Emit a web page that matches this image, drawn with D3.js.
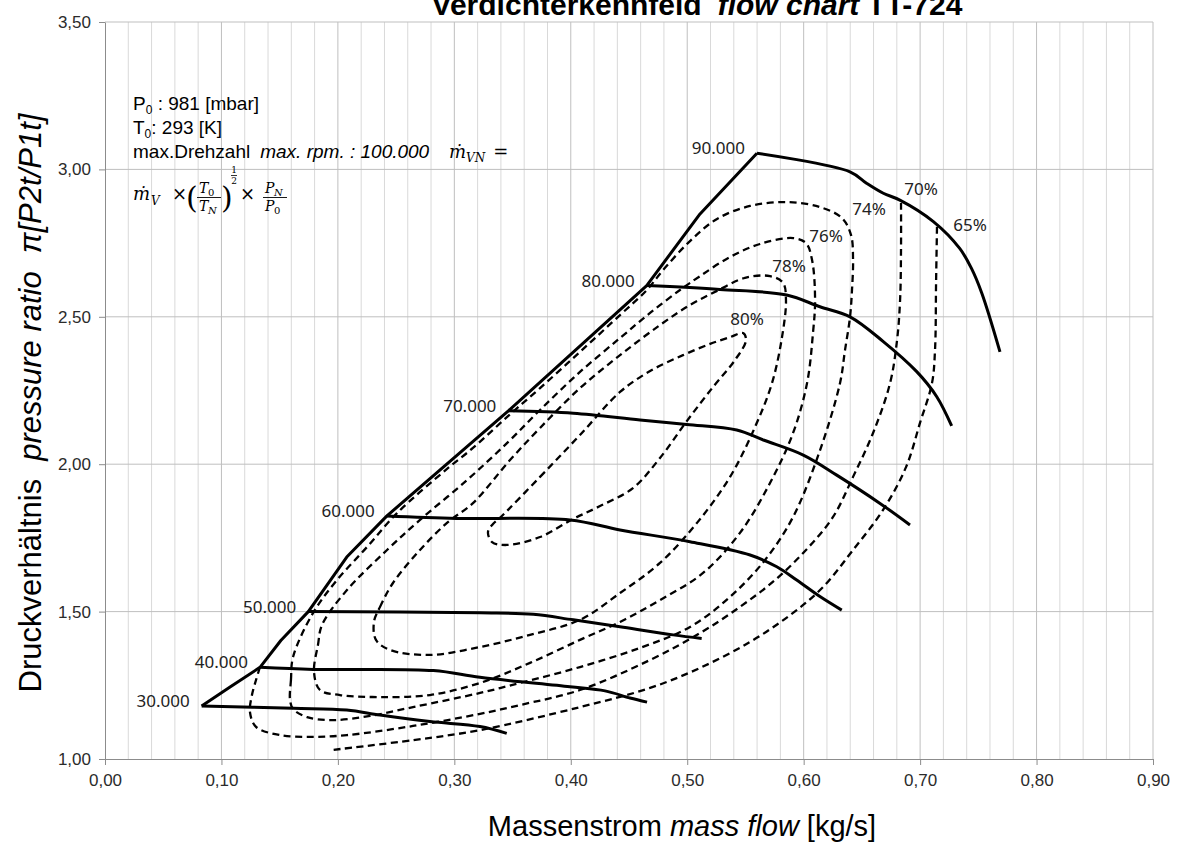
<!DOCTYPE html>
<html><head><meta charset="utf-8">
<script src="https://cdn.jsdelivr.net/npm/d3@7/dist/d3.min.js"></script>
<style>body{margin:0;background:#fff}svg{display:block}</style>
</head><body>
<svg id="chart" width="1183" height="854"></svg>
<script>
// ---------- data ----------
const xTicks = [0,0.1,0.2,0.3,0.4,0.5,0.6,0.7,0.8,0.9];
const yTicks = [1.0,1.5,2.0,2.5,3.0,3.5];
const speedNames = ["30.000","40.000","50.000","60.000","70.000","80.000","90.000"];

const speed30 = [[0.083,1.180],[0.1617,1.172],[0.2076,1.166],[0.2362,1.149],[0.2791,1.127],[0.322,1.110],[0.345,1.087]];
const speed40 = [[0.1331,1.311],[0.1789,1.304],[0.282,1.300],[0.322,1.277],[0.3993,1.245],[0.4294,1.231],[0.4509,1.207],[0.4655,1.193]];
const speed50 = [[0.1746,1.500],[0.322,1.496],[0.3678,1.491],[0.4022,1.472],[0.4451,1.447],[0.488,1.421],[0.5124,1.409]];
const speed60 = [[0.2419,1.824],[0.302,1.816],[0.3993,1.811],[0.4423,1.777],[0.5024,1.737],[0.554,1.692],[0.5769,1.652],[0.594,1.607],[0.614,1.551],[0.6327,1.505]];
const speed70 = [[0.3464,2.181],[0.4022,2.173],[0.4595,2.150],[0.4996,2.135],[0.5425,2.116],[0.5654,2.082],[0.5997,2.031],[0.6284,1.963],[0.6656,1.867],[0.6913,1.794]];
const speed80 = [[0.4652,2.606],[0.5281,2.593],[0.5854,2.574],[0.614,2.534],[0.6398,2.500],[0.6684,2.416],[0.6971,2.314],[0.7143,2.229],[0.7271,2.130]];
const speed90 = [[0.5599,3.055],[0.6398,2.992],[0.654,2.953],[0.6684,2.919],[0.6826,2.896],[0.7114,2.823],[0.734,2.732],[0.744,2.665],[0.753,2.580],[0.7686,2.381]];

const surge = [[0.083,1.180],[0.1074,1.244],[0.1331,1.311],[0.1510,1.402],[0.1746,1.500],[0.2076,1.685],[0.2419,1.824],[0.3464,2.181],[0.4652,2.606],[0.5110,2.849],[0.5599,3.055]];

// efficiency islands (closed loops)
const eff80 = [[0.3392,1.818],[0.3736,1.957],[0.4079,2.099],[0.4423,2.245],[0.4681,2.316],[0.4964,2.370],[0.5196,2.408],[0.5368,2.431],[0.5479,2.445],[0.5505,2.421],[0.5410,2.353],[0.5222,2.262],[0.4998,2.147],[0.4766,2.021],[0.4534,1.919],[0.4251,1.858],[0.4019,1.814],[0.3736,1.753],[0.3452,1.726],[0.3324,1.736],[0.3289,1.770],[0.3332,1.797]];
const eff78 = [[0.2310,1.465],[0.2362,1.516],[0.2473,1.597],[0.2705,1.709],[0.2937,1.801],[0.3160,1.868],[0.3478,2.014],[0.3736,2.123],[0.4079,2.258],[0.4423,2.370],[0.4766,2.472],[0.5024,2.540],[0.5256,2.588],[0.5496,2.632],[0.5711,2.638],[0.5823,2.615],[0.5848,2.557],[0.5814,2.431],[0.5728,2.275],[0.5582,2.126],[0.5368,1.957],[0.5084,1.801],[0.4766,1.665],[0.4423,1.563],[0.4079,1.472],[0.3650,1.421],[0.3221,1.380],[0.2791,1.353],[0.2448,1.370],[0.2327,1.404]];
const eff76 = [[0.1795,1.295],[0.1829,1.387],[0.1864,1.455],[0.2078,1.573],[0.2422,1.709],[0.2705,1.811],[0.3109,1.946],[0.3461,2.075],[0.3736,2.184],[0.4079,2.313],[0.4423,2.428],[0.4681,2.513],[0.4938,2.591],[0.5110,2.638],[0.5368,2.703],[0.5625,2.747],[0.5909,2.767],[0.6020,2.750],[0.6072,2.693],[0.6098,2.557],[0.6080,2.445],[0.6029,2.275],[0.5909,2.106],[0.5711,1.936],[0.5453,1.767],[0.5136,1.631],[0.4766,1.539],[0.4423,1.465],[0.4079,1.404],[0.3650,1.326],[0.3221,1.258],[0.2791,1.217],[0.2362,1.210],[0.2018,1.217],[0.1846,1.234]];
const eff74 = [[0.1589,1.200],[0.1597,1.268],[0.1615,1.346],[0.1786,1.495],[0.1992,1.607],[0.2250,1.719],[0.2508,1.834],[0.2937,1.984],[0.3160,2.055],[0.3461,2.163],[0.3736,2.258],[0.4079,2.381],[0.4423,2.506],[0.4646,2.588],[0.4809,2.666],[0.5024,2.757],[0.5256,2.832],[0.5539,2.876],[0.5857,2.889],[0.6141,2.872],[0.6329,2.835],[0.6407,2.777],[0.6424,2.693],[0.6415,2.591],[0.6398,2.499],[0.6355,2.387],[0.6312,2.275],[0.6141,2.048],[0.5909,1.821],[0.5668,1.675],[0.5368,1.550],[0.5024,1.448],[0.4595,1.377],[0.4079,1.312],[0.3564,1.258],[0.3221,1.224],[0.2645,1.176],[0.2276,1.146],[0.1958,1.132],[0.1735,1.142],[0.1615,1.170]];
// open efficiency lines
const eff70 = [[0.1331,1.312],[0.1297,1.268],[0.1262,1.217],[0.1245,1.159],[0.1297,1.109],[0.1503,1.081],[0.1786,1.075],[0.2078,1.081],[0.2645,1.112],[0.3221,1.153],[0.3564,1.183],[0.4079,1.234],[0.4681,1.336],[0.5110,1.427],[0.5453,1.516],[0.5754,1.607],[0.6020,1.709],[0.6252,1.821],[0.6424,1.957],[0.6596,2.106],[0.6742,2.275],[0.6802,2.421],[0.6828,2.557],[0.6836,2.727],[0.6836,2.886]];
const eff65 = [[0.7145,2.805],[0.7137,2.615],[0.7128,2.387],[0.7102,2.275],[0.6999,2.140],[0.6879,1.990],[0.6682,1.845],[0.6424,1.709],[0.6158,1.580],[0.5883,1.488],[0.5539,1.397],[0.5110,1.309],[0.4681,1.241],[0.4079,1.176],[0.3221,1.098],[0.2645,1.064],[0.1958,1.031]];

const effLabels = [
  {t:"80%", x:0.5514, y:2.493},
  {t:"78%", x:0.5874, y:2.672},
  {t:"76%", x:0.6192, y:2.774},
  {t:"74%", x:0.6561, y:2.866},
  {t:"70%", x:0.7008, y:2.934},
  {t:"65%", x:0.7429, y:2.811}
];

// ---------- layout ----------
const W = 1183, H = 854;
const M = {left:105, right:30, top:22, bottom:95};
const svg = d3.select("#chart");
const x = d3.scaleLinear().domain([0,0.9]).range([M.left, W - M.right]);
const y = d3.scaleLinear().domain([1,3.5]).range([H - M.bottom, M.top]);
const SANS = "'Liberation Sans', Arial, sans-serif";
const LBL = "'Noto Sans', 'Open Sans', sans-serif";
const SERIF = "'DejaVu Serif', 'Liberation Serif', serif";
const fmt = d3.formatLocale({decimal:",", thousands:".", grouping:[3], currency:["","€"]}).format(".2f");

// grid
const minorX = d3.range(0, 45).map(i => i * 0.02).filter(v => Math.abs(v*10 - Math.round(v*10)) > 1e-6);
const g = svg.append("g");
g.selectAll("line.mx").data(minorX).join("line")
  .attr("x1", d => x(d)).attr("x2", d => x(d)).attr("y1", y(1)).attr("y2", y(3.5))
  .attr("stroke", "#d9d9d9").attr("stroke-width", 1);
g.selectAll("line.Mx").data(xTicks.slice(1)).join("line")
  .attr("x1", d => x(d)).attr("x2", d => x(d)).attr("y1", y(1)).attr("y2", y(3.5))
  .attr("stroke", "#bfbfbf").attr("stroke-width", 1);
g.selectAll("line.My").data(yTicks.slice(1)).join("line")
  .attr("x1", x(0)).attr("x2", x(0.9)).attr("y1", d => y(d)).attr("y2", d => y(d))
  .attr("stroke", "#bfbfbf").attr("stroke-width", 1);

// axes
const gx = svg.append("g").attr("transform", `translate(0,${y(1)})`)
  .call(d3.axisBottom(x).tickValues(xTicks).tickSize(6).tickSizeOuter(0).tickPadding(9).tickFormat(fmt));
const gy = svg.append("g").attr("transform", `translate(${x(0)},0)`)
  .call(d3.axisLeft(y).tickValues(yTicks).tickSize(6).tickSizeOuter(0).tickPadding(8).tickFormat(fmt));
[gx, gy].forEach(a => {
  a.select(".domain").attr("stroke", "#8c8c8c");
  a.selectAll(".tick line").attr("stroke", "#8c8c8c");
  a.selectAll(".tick text").attr("font-family", SANS).attr("font-size", 17).attr("fill", "#2b2b2b");
});

// curves
const smooth = d3.line().x(d => x(d[0])).y(d => y(d[1])).curve(d3.curveCatmullRom.alpha(0.5));
const closed = d3.line().x(d => x(d[0])).y(d => y(d[1])).curve(d3.curveCatmullRomClosed.alpha(0.5));
const surgeLine = d3.line().x(d => x(d[0])).y(d => y(d[1])).curve(d3.curveLinear);

const dashStyle = p => p.attr("fill", "none").attr("stroke", "#000").attr("stroke-width", 2.3).attr("stroke-dasharray", "7,4.5");
[eff80, eff78, eff76, eff74].forEach(c => svg.append("path").attr("d", closed(c)).call(dashStyle));
[eff70, eff65].forEach(c => svg.append("path").attr("d", smooth(c)).call(dashStyle));

const speeds = [speed30, speed40, speed50, speed60, speed70, speed80, speed90];
speeds.forEach(s => svg.append("path").attr("d", smooth(s))
  .attr("fill", "none").attr("stroke", "#000").attr("stroke-width", 3).attr("stroke-linejoin", "round"));
svg.append("path").attr("d", surgeLine(surge))
  .attr("fill", "none").attr("stroke", "#000").attr("stroke-width", 3).attr("stroke-linejoin", "round");

// speed labels
svg.selectAll("text.sp").data(speeds).join("text")
  .attr("x", d => x(d[0][0]) - 12).attr("y", d => y(d[0][1]) - 5).attr("dy", "0.35em")
  .attr("text-anchor", "end").attr("font-family", LBL).attr("font-size", 17).attr("fill", "#222")
  .text((d, i) => speedNames[i]);

// efficiency labels
svg.selectAll("text.ef").data(effLabels).join("text")
  .attr("x", d => x(d.x)).attr("y", d => y(d.y)).attr("dy", "0.35em")
  .attr("text-anchor", "middle").attr("font-family", LBL).attr("font-size", 17).attr("fill", "#222")
  .text(d => d.t);

// title
const title = svg.append("text").attr("x", 697).attr("y", 15).attr("text-anchor", "middle")
  .attr("font-family", SANS).attr("font-weight", "bold").attr("font-size", 30).attr("fill", "#000");
title.append("tspan").text("Verdichterkennfeld");
title.append("tspan").attr("dx", 16).attr("font-style", "italic").text("flow chart");
title.append("tspan").attr("dx", 8).text("TT-724");

// x axis title
const xt = svg.append("text").attr("x", 682).attr("y", 836).attr("text-anchor", "middle")
  .attr("font-family", SANS).attr("font-size", 29).attr("fill", "#000");
xt.append("tspan").text("Massenstrom");
xt.append("tspan").attr("dx", 8).attr("font-style", "italic").text("mass flow");
xt.append("tspan").attr("dx", 8).text("[kg/s]");

// y axis title
const yt = svg.append("text").attr("transform", "translate(41,403) rotate(-90)").attr("text-anchor", "middle")
  .attr("font-family", SANS).attr("font-size", 31).attr("fill", "#000");
yt.append("tspan").text("Druckverhältnis");
yt.append("tspan").attr("dx", 18).attr("font-style", "italic").text("pressure ratio");
yt.append("tspan").attr("dx", 18).attr("font-style", "italic").text("π[P2t/P1t]");

// annotation block
const ann = svg.append("g").attr("font-family", SANS).attr("font-size", 19).attr("fill", "#000");
function subText(xp, yp, main, sub, rest) {
  const tx = ann.append("text").attr("x", xp).attr("y", yp);
  tx.append("tspan").text(main);
  tx.append("tspan").attr("font-size", 12).attr("dy", 4).text(sub);
  tx.append("tspan").attr("dy", -4).text(rest);
}
subText(133, 110, "P", "0", " : 981 [mbar]");
subText(133, 134, "T", "0", ": 293 [K]");
const l3 = ann.append("text").attr("x", 133).attr("y", 158);
l3.append("tspan").text("max.Drehzahl");
l3.append("tspan").attr("dx", 10).attr("font-style", "italic").text("max. rpm. : 100.000");
const m3 = ann.append("text").attr("x", 449).attr("y", 158).attr("font-family", SERIF).attr("font-style", "italic").attr("font-size", 18);
m3.append("tspan").text("ṁ");
m3.append("tspan").attr("font-size", 12).attr("dy", 4).text("VN");
m3.append("tspan").attr("dy", -4).attr("dx", 8).attr("font-style", "normal").text("=");

// formula line
const f = ann.append("g").attr("font-family", SERIF);
function t(xp, yp, s, size, italic, anchor) {
  return f.append("text").attr("x", xp).attr("y", yp).attr("font-size", size)
    .attr("font-style", italic ? "italic" : "normal").attr("text-anchor", anchor || "start").text(s);
}
t(133, 200, "ṁ", 18, true);
t(151, 205, "V", 12, true);
t(172, 200, "×", 18, false);
t(186, 208, "(", 30, false);
t(199, 193, "T", 14, true); t(208, 196, "0", 10, false);
f.append("line").attr("x1", 197).attr("x2", 221).attr("y1", 197.5).attr("y2", 197.5).attr("stroke", "#000").attr("stroke-width", 0.9);
t(199, 211, "T", 14, true); t(208, 214, "N", 10, true);
t(221, 208, ")", 30, false);
t(234, 173, "1", 9, false, "middle");
f.append("line").attr("x1", 231).attr("x2", 237).attr("y1", 175.5).attr("y2", 175.5).attr("stroke", "#000").attr("stroke-width", 0.8);
t(234, 184, "2", 9, false, "middle");
t(240, 200, "×", 18, false);
t(265, 193, "P", 14, true); t(274, 196, "N", 10, true);
f.append("line").attr("x1", 263).attr("x2", 287).attr("y1", 197.5).attr("y2", 197.5).attr("stroke", "#000").attr("stroke-width", 0.9);
t(265, 211, "P", 14, true); t(274, 214, "0", 10, false);
</script>
</body></html>
